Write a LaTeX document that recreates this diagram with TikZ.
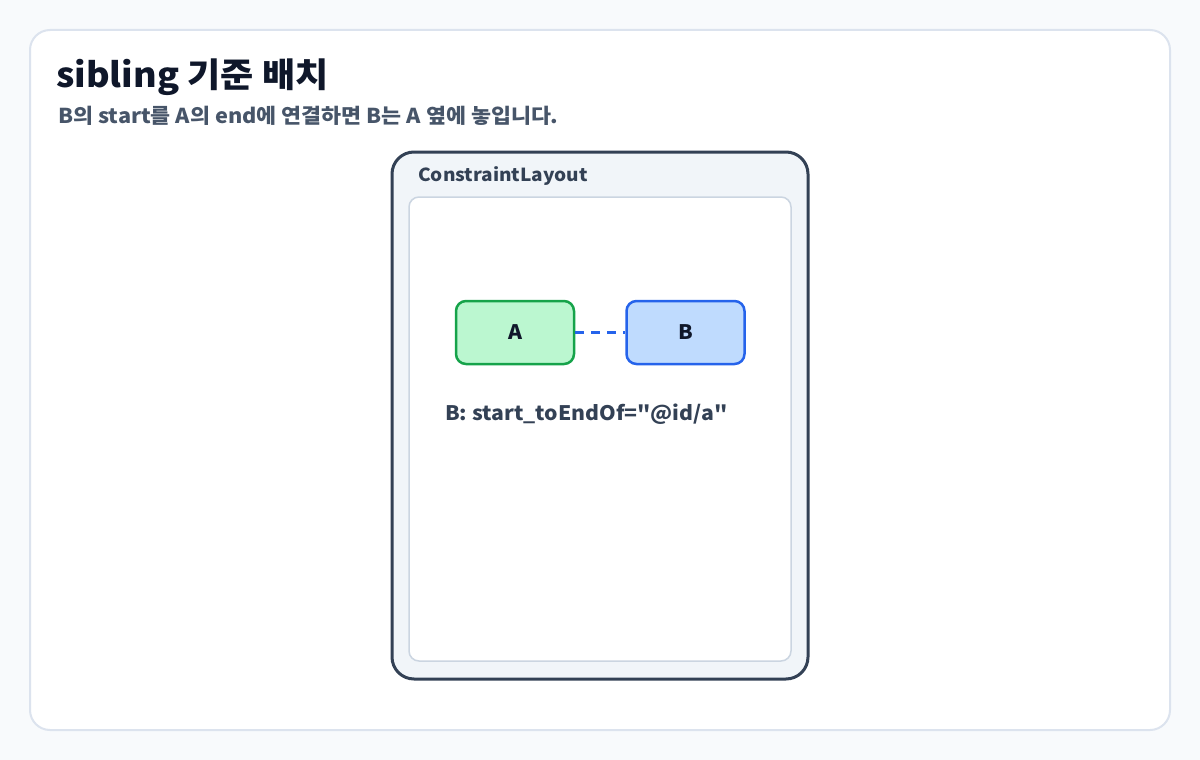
\documentclass[tikz,border=0pt]{standalone}
\usepackage{fontspec}
\setmainfont{Noto Sans CJK KR}[Ligatures=TeXOff, FakeStretch=1.06]
\usetikzlibrary{positioning}
\definecolor{pagebg}{HTML}{F8FAFC}
\definecolor{cardline}{HTML}{DCE3EE}
\definecolor{ink}{HTML}{0F172A}
\definecolor{slate}{HTML}{475569}
\definecolor{frame}{HTML}{334155}
\definecolor{framebg}{HTML}{F1F5F9}
\definecolor{innerline}{HTML}{CBD5E1}
\definecolor{agreen}{HTML}{16A34A}
\definecolor{agreenbg}{HTML}{BBF7D0}
\definecolor{bblue}{HTML}{2563EB}
\definecolor{bbluebg}{HTML}{BFDBFE}

\def\cardrect{(30,30) rectangle (1170,730)}
\def\layoutrect{(392,152) rectangle (808,679)}
\def\innerrect{(409,197) rectangle (791,661)}

\begin{document}
\begin{tikzpicture}[x=1pt,y=-1pt,
    viewbox/.style={draw, line width=2.5pt, rounded corners=10pt,
      minimum width=118pt, minimum height=63pt, inner sep=0pt,
      font=\fontsize{20}{24}\selectfont\bfseries, text=ink},
    link/.style={draw=bblue, line width=2.5pt, dash pattern=on 9pt off 7pt}]
  \useasboundingbox (0,0) rectangle (1200,760);
  \fill[pagebg] (0,0) rectangle (1200,760);
  \draw[cardline, fill=white, line width=2pt, rounded corners=20pt] \cardrect;

  \node[anchor=base west, text=ink, inner sep=0pt,
    font=\fontsize{34}{40}\selectfont\bfseries] (title) at (56,88) {sibling 기준 배치};
  \node[anchor=base west, text=slate, inner sep=0pt,
    font=\fontsize{20.5}{24}\selectfont\bfseries] (subtitle) at (58,123)
    {B의 start를 A의 end에 연결하면 B는 A 옆에 놓입니다.};

  \draw[frame, fill=framebg, line width=3pt, rounded corners=22pt] \layoutrect;
  \node[anchor=west, text=frame, inner sep=0pt,
    font=\fontsize{18}{21}\selectfont\bfseries] (layout) at (418,176) {ConstraintLayout};
  \draw[innerline, fill=white, line width=1.5pt, rounded corners=10pt] \innerrect;

  \node[viewbox, draw=agreen, fill=agreenbg] (a) at (515,332.5) {A};
  \node[viewbox, draw=bblue, fill=bbluebg, right=50pt of a] (b) {B};
  \draw[link] (a.east) -- (b.west);

  \node[anchor=west, text=frame, inner sep=0pt,
    font=\fontsize{20}{24}\selectfont\bfseries] (attr) at (445,414) {B: start\_toEndOf="@id/a"};
\end{tikzpicture}
\end{document}
